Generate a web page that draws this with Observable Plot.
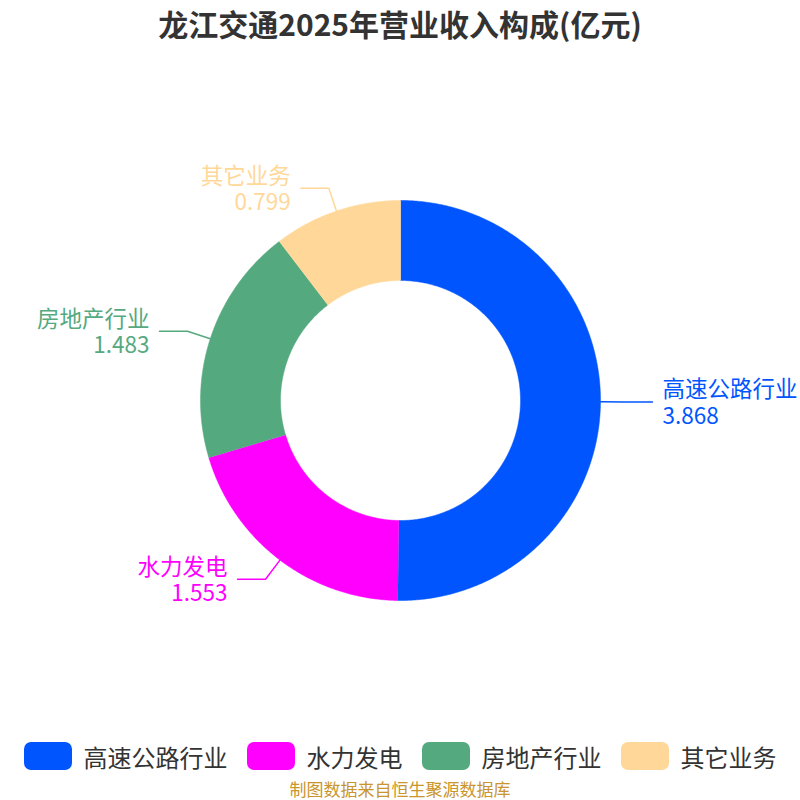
<!DOCTYPE html>
<html>
<head>
<meta charset="utf-8">
<script src="https://cdn.jsdelivr.net/npm/d3@7"></script>
<script src="https://cdn.jsdelivr.net/npm/@observablehq/plot@0.6"></script>
<style>
  html, body { margin: 0; padding: 0; background: #fff; overflow: hidden; }
  #wrap { position: relative; width: 800px; height: 800px; font-family: "Noto Sans CJK SC", "Noto Sans", sans-serif; }
  #title { position: absolute; top: 0; left: 0; width: 800px; height: 46px; line-height: 46px; text-align: center; font-size: 30px; font-weight: bold; color: #333; }
  #chart { position: absolute; top: 46px; left: 0; width: 800px; height: 676px; overflow: hidden; }
  #legend { position: absolute; top: 736px; left: 0; width: 800px; height: 40px; display: flex; justify-content: center; align-items: center; gap: 19px; }
  .item { display: flex; align-items: center; gap: 12px; font-size: 24px; color: #333; }
  .sw { width: 48px; height: 28px; border-radius: 7px; }
  #caption { position: absolute; top: 778px; left: 0; width: 800px; height: 22px; line-height: 22px; text-align: center; font-size: 17px; color: #C9952C; }
</style>
</head>
<body>
<div id="wrap">
  <div id="title">龙江交通2025年营业收入构成(亿元)</div>
  <div id="chart"></div>
  <div id="legend"></div>
  <div id="caption">制图数据来自恒生聚源数据库</div>
</div>
<script>
const categories = ["高速公路行业", "水力发电", "房地产行业", "其它业务"];
const values = [3.868, 1.553, 1.483, 0.799];
const colors = ["#0055FF", "#FF00FF", "#55A97F", "#FFD899"];

const W = 800, H = 676, cx = 400, cy = 354, R = 200;
const outerR = 1, innerR = 0.6;
const lineLen1 = 24 / R, lineLen2 = 28 / R, gap = 10 / R;

const total = d3.sum(values);
let acc = 0;
const slices = categories.map((name, i) => {
  const a0 = acc / total * 2 * Math.PI;
  acc += values[i];
  const a1 = acc / total * 2 * Math.PI;
  return { name, value: values[i], color: colors[i], a0, a1, mid: (a0 + a1) / 2 };
});

// polygon points for each ring slice
const arcPts = [];
for (const s of slices) {
  const n = Math.max(8, Math.ceil((s.a1 - s.a0) / (Math.PI / 360)));
  for (let k = 0; k <= n; k++) {
    const a = s.a0 + (s.a1 - s.a0) * k / n;
    arcPts.push({ name: s.name, x: outerR * Math.sin(a), y: outerR * Math.cos(a) });
  }
  for (let k = n; k >= 0; k--) {
    const a = s.a0 + (s.a1 - s.a0) * k / n;
    arcPts.push({ name: s.name, x: innerR * Math.sin(a), y: innerR * Math.cos(a) });
  }
}

// label leader lines
const leaderPts = [];
const labels = [];
for (const s of slices) {
  const dx = Math.sin(s.mid), dy = Math.cos(s.mid);
  const p0 = { x: outerR * dx, y: outerR * dy };
  const p1 = { x: (outerR + lineLen1) * dx, y: (outerR + lineLen1) * dy };
  const side = dx >= 0 ? 1 : -1;
  const p2 = { x: p1.x + side * lineLen2, y: p1.y };
  [p0, p1, p2].forEach(p => leaderPts.push({ name: s.name, ...p }));
  labels.push({ label: s.name + "\n" + String(s.value), color: s.color, side, x: p2.x + side * gap, y: p2.y });
}

const xDomain = [-cx / R, (W - cx) / R];
const yDomain = [-(H - cy) / R, cy / R];
const fontFam = "Noto Sans CJK SC, Noto Sans, sans-serif";

const textMarks = [];
for (const side of [1, -1]) {
  const data = labels.filter(d => d.side === side);
  textMarks.push(
    Plot.text(data, { x: "x", y: "y", text: "label", fill: "color", fontSize: 22.5, lineHeight: 1.17, lineAnchor: "middle", textAnchor: side > 0 ? "start" : "end", fontFamily: fontFam })
  );
}

const chart = Plot.plot({
  width: W, height: H,
  margin: 0,
  x: { domain: xDomain, axis: null },
  y: { domain: yDomain, axis: null },
  color: { domain: categories, range: colors },
  style: { background: "transparent", overflow: "visible" },
  marks: [
    Plot.line(arcPts, { x: "x", y: "y", z: "name", fill: "name", stroke: "name", strokeWidth: 0.5, curve: "linear" }),
    Plot.line(leaderPts, { x: "x", y: "y", z: "name", stroke: "name", strokeWidth: 1.5 }),
    ...textMarks
  ]
});
document.getElementById("chart").appendChild(chart);

const legend = document.getElementById("legend");
categories.forEach((c, i) => {
  const item = document.createElement("div");
  item.className = "item";
  const sw = document.createElement("div");
  sw.className = "sw";
  sw.style.background = colors[i];
  const t = document.createElement("span");
  t.textContent = c;
  item.appendChild(sw);
  item.appendChild(t);
  legend.appendChild(item);
});
</script>
</body>
</html>
